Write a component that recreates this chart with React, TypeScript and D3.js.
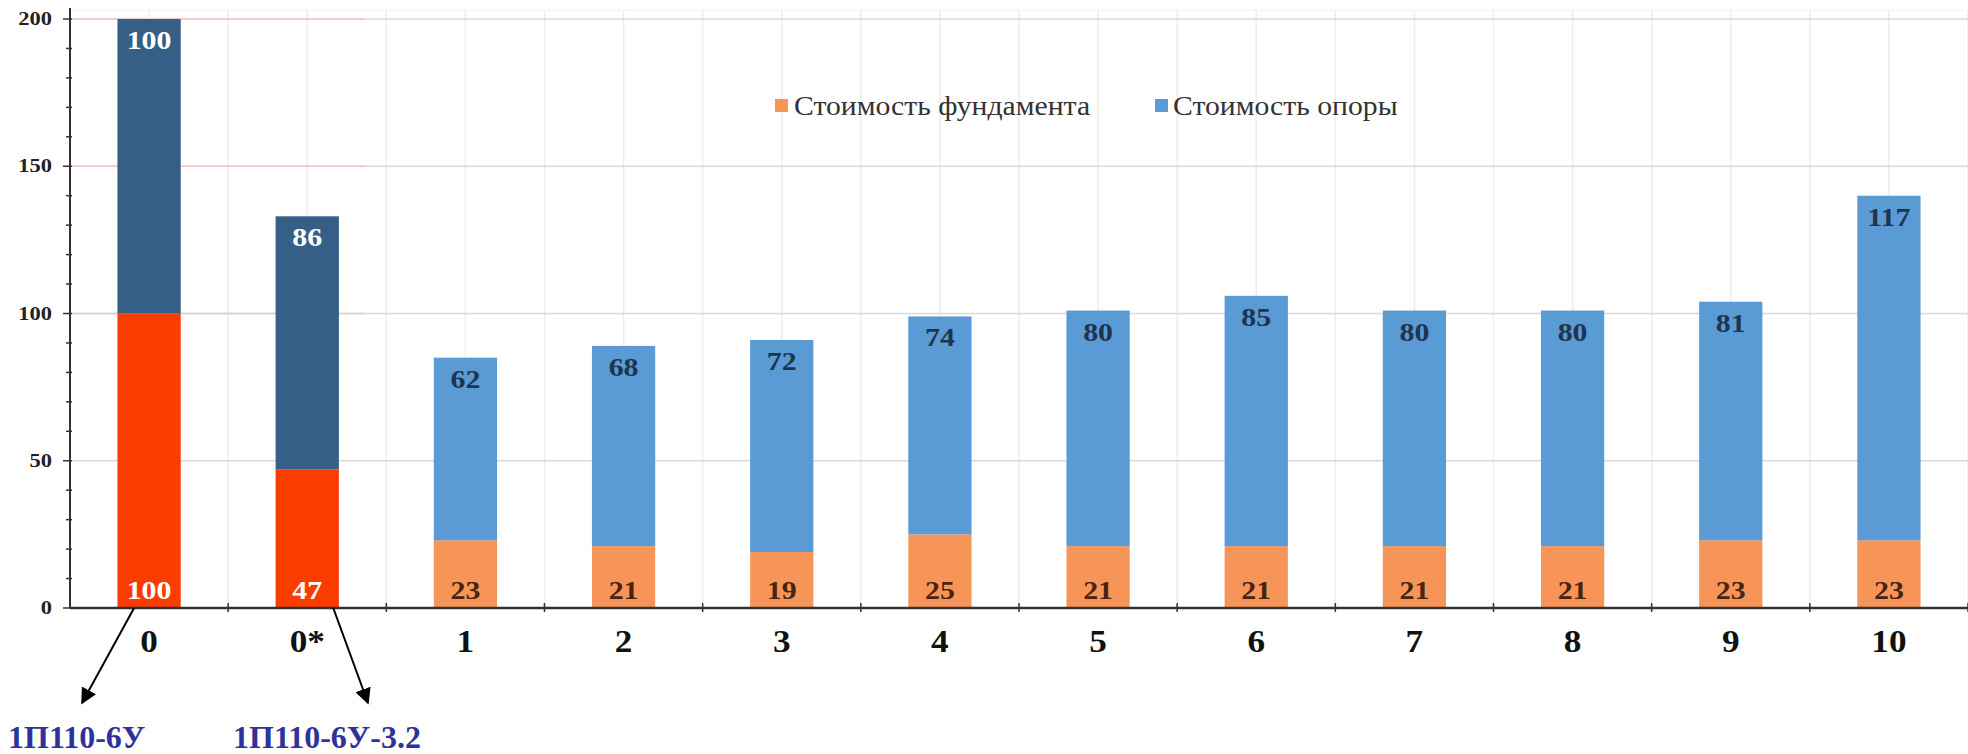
import React from "react";
import * as d3 from "d3";

const categories = ["0", "0*", "1", "2", "3", "4", "5", "6", "7", "8", "9", "10"];
const foundationCost = [100, 47, 23, 21, 19, 25, 21, 21, 21, 21, 23, 23];
const supportCost = [100, 86, 62, 68, 72, 74, 80, 85, 80, 80, 81, 117];
const highlighted = ["0", "0*"];
const yTicks = [0, 50, 100, 150, 200];
const legendLabels = ["Стоимость фундамента", "Стоимость опоры"];
const typeLabels = [
  { cat: "0", text: "1П110-6У" },
  { cat: "0*", text: "1П110-6У-3.2" },
];

const W = 1968;
const H = 754;
const FONT = "'Liberation Serif', 'Times New Roman', serif";

function SText(props: {
  x: number;
  y: number;
  sx?: number;
  anchor?: "start" | "middle" | "end";
  size: number;
  bold?: boolean;
  fill: string;
  children: React.ReactNode;
}) {
  const { x, y, sx = 1, anchor = "start", size, bold, fill, children } = props;
  return (
    <text
      transform={`translate(${x},${y}) scale(${sx},1)`}
      textAnchor={anchor}
      fontFamily={FONT}
      fontWeight={bold ? "bold" : "normal"}
      fontSize={size}
      fill={fill}
    >
      {children}
    </text>
  );
}

export default function App() {
  const x = d3.scaleBand<string>().domain(categories).range([70, 1968]).padding(0);
  const y = d3.scaleLinear().domain([0, 200]).range([608, 19]);
  const bw = x.bandwidth();
  const barW = bw * 0.4;
  const minor = d3.range(0, 201, 10);

  const halfLines: number[] = [];
  categories.forEach((c) => {
    halfLines.push(x(c)! + bw / 2);
    halfLines.push(x(c)! + bw);
  });

  return (
    <svg width={W} height={H} style={{ position: "absolute", left: 0, top: 0, background: "#fff" }}>
      <defs>
        <marker id="arr" viewBox="0 0 10 10" refX="9" refY="5" markerWidth="16" markerHeight="16" markerUnits="userSpaceOnUse" orient="auto">
          <path d="M0,0 L10,5 L0,10 z" fill="#000" />
        </marker>
      </defs>
      <rect x={0} y={0} width={W} height={H} fill="#fff" />
      {/* vertical gridlines */}
      {halfLines.map((v, i) => (
        <line key={"v" + i} x1={v} x2={v} y1={10} y2={y(0)} stroke="#ededed" strokeWidth={1.5} />
      ))}
      <line x1={70} x2={W} y1={10} y2={10} stroke="#f2f2f2" strokeWidth={1} />
      {/* horizontal gridlines */}
      {yTicks.filter((t) => t > 0).map((t) => (
        <g key={"h" + t}>
          <line x1={70} x2={W} y1={y(t)} y2={y(t)} stroke="#d9d9d9" strokeWidth={1.5} />
          {t >= 100 && (
            <line x1={70} x2={364} y1={y(t)} y2={y(t)} stroke="#efc4c4" strokeWidth={1.5} />
          )}
        </g>
      ))}
      {/* bars */}
      {categories.map((c, i) => {
        const cx = x(c)! + bw / 2;
        const hi = highlighted.includes(c);
        const f = foundationCost[i];
        const s = supportCost[i];
        return (
          <g key={"b" + c}>
            <rect x={cx - barW / 2} y={y(f)} width={barW} height={y(0) - y(f)} fill={hi ? "#F93C00" : "#F79559"} />
            <rect x={cx - barW / 2} y={y(f + s)} width={barW} height={y(f) - y(f + s)} fill={hi ? "#355F86" : "#5B9BD5"} />
            <SText x={cx} y={y(f + s) + 30} sx={1.15} anchor="middle" size={26} bold fill={hi ? "#ffffff" : "#1E3550"}>
              {s}
            </SText>
            <SText x={cx} y={y(0) - 9} sx={1.15} anchor="middle" size={26} bold fill={hi ? "#ffffff" : "#4A2410"}>
              {f}
            </SText>
          </g>
        );
      })}
      {/* y axis */}
      <line x1={70} x2={70} y1={8} y2={y(0)} stroke="#333" strokeWidth={2} />
      {minor.map((t) => (
        <line key={"m" + t} x1={t % 50 === 0 ? 63 : 66} x2={72} y1={y(t)} y2={y(t)} stroke="#333" strokeWidth={1.5} />
      ))}
      {yTicks.map((t) => (
        <SText key={"yl" + t} x={52} y={y(t) + 6} sx={1.25} anchor="end" size={18} bold fill="#222">
          {t}
        </SText>
      ))}
      {/* x axis */}
      <line x1={70} x2={W} y1={y(0)} y2={y(0)} stroke="#333" strokeWidth={2.5} />
      {categories.map((c) => (
        <line key={"xt" + c} x1={x(c)! + bw} x2={x(c)! + bw} y1={y(0) - 5} y2={y(0) + 4} stroke="#333" strokeWidth={1.5} />
      ))}
      {categories.map((c) => (
        <SText key={"xl" + c} x={x(c)! + bw / 2} y={652} sx={1.1} anchor="middle" size={32} bold fill="#111">
          {c}
        </SText>
      ))}
      {/* legend */}
      <rect x={775} y={99} width={13} height={13} fill="#F79559" />
      <SText x={794} y={115} sx={1.1} size={27} fill="#333">{legendLabels[0]}</SText>
      <rect x={1155} y={99} width={13} height={13} fill="#5B9BD5" />
      <SText x={1173} y={115} sx={1.1} size={27} fill="#333">{legendLabels[1]}</SText>
      {/* arrows and type labels */}
      <line x1={x("0")! + bw / 2 - 15} y1={y(0)} x2={82} y2={703} stroke="#000" strokeWidth={2} markerEnd="url(#arr)" />
      <line x1={x("0*")! + bw / 2 + 26} y1={y(0)} x2={368} y2={703} stroke="#000" strokeWidth={2} markerEnd="url(#arr)" />
      <text x={8} y={748} fontFamily={FONT} fontWeight="bold" fontSize={32} fill="#2F3399">{typeLabels[0].text}</text>
      <text x={233} y={748} fontFamily={FONT} fontWeight="bold" fontSize={32} fill="#2F3399">{typeLabels[1].text}</text>
    </svg>
  );
}
